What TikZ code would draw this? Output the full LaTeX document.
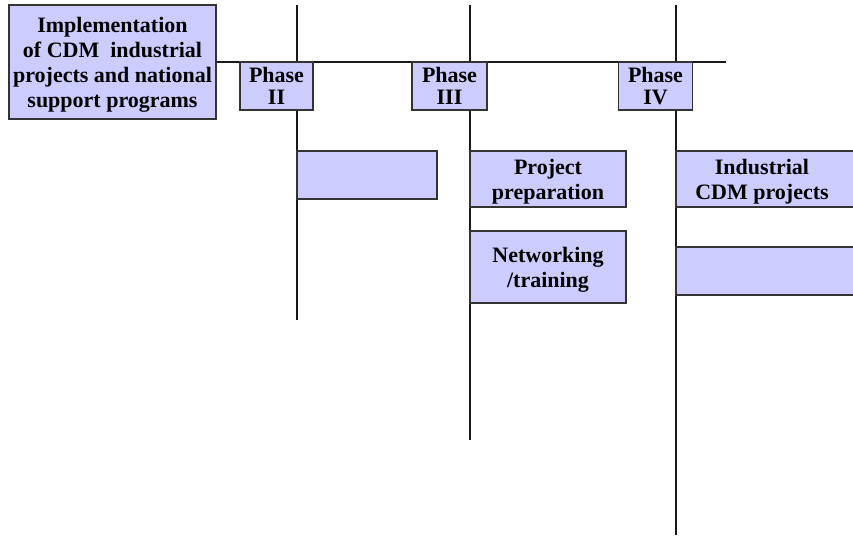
\documentclass[tikz,border=0pt]{standalone}
\usepackage{fontspec}
\setmainfont{Liberation Serif}
\definecolor{boxfill}{HTML}{CCCCFF}
\definecolor{boxline}{HTML}{333333}
\tikzset{
  box/.style={draw=boxline, fill=boxfill, line width=1.3pt, inner sep=0pt,
    align=center, text depth=0pt, font=\bfseries\fontsize{22}{25}\selectfont},
  phasebox/.style={box, minimum width=74, minimum height=48,
    font=\bfseries\fontsize{22}{22}\selectfont},
  rule/.style={draw=black!90, line width=1.4pt}
}
\begin{document}
\begin{tikzpicture}[x=1pt,y=-1pt]
\useasboundingbox (0,0) rectangle (853,535);
\clip (0,0) rectangle (853,535);

% free ends of the time lines
\coordinate (t2) at (297,5);
\coordinate (b2) at (297,320);
\coordinate (t3) at (470,5);
\coordinate (b3) at (470,440);
\coordinate (t4) at (676,5);
\coordinate (b4) at (676,535);
\coordinate (hend) at (726,62);

% programme box and the main axis
\node[box, minimum width=207, minimum height=114] (main) at (112.5,62)
  {Implementation\\of CDM\ \ industrial\\projects and national\\support programs};
\draw[rule] (main.east) -- (hend);

% phase time lines
\draw[rule] (t2) -- (b2);
\draw[rule] (t3) -- (b3);
\draw[rule] (t4) -- (b4);

% phase labels
\node[phasebox, minimum width=73] (p2) at (276.5,86) {Phase\\II};
\node[phasebox, minimum width=75] (p3) at (449.5,86) {Phase\\III};
\node[phasebox] (p4) at (655.5,86) {Phase\\IV};

% activities per phase
\node[box, minimum width=140, minimum height=48] (a2) at (367,175) {};
\node[box, minimum width=156, minimum height=56] (a3) at (548,179)
  {Project\\preparation};
\node[box, minimum width=156, minimum height=72] (a3b) at (548,267)
  {Networking\\/training};
\node[box, minimum width=184, minimum height=56] (a4) at (768,179)
  {\hspace*{-12pt}Industrial\\\hspace*{-12pt}CDM projects};
\node[box, minimum width=184, minimum height=48] (a4b) at (768,271) {};
\end{tikzpicture}
\end{document}
